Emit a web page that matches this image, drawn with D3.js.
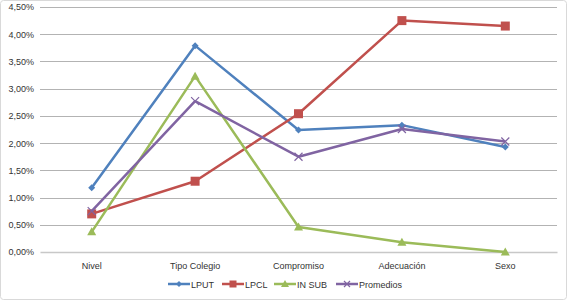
<!DOCTYPE html>
<html>
<head>
<meta charset="utf-8">
<script src="https://cdn.jsdelivr.net/npm/d3@7"></script>
<style>
  body { margin: 0; background: #fff; }
  svg { font-family: "Liberation Sans", Arial, sans-serif; }
</style>
</head>
<body>
<div id="chart"></div>
<script>
// data (percent)
var categories = ["Nivel", "Tipo Colegio", "Compromiso", "Adecuación", "Sexo"];
var seriesNames = ["LPUT", "LPCL", "IN SUB", "Promedios"];
var lput = [1.18, 3.79, 2.24, 2.33, 1.93];
var lpcl = [0.70, 1.30, 2.54, 4.25, 4.15];
var inSub = [0.37, 3.23, 0.46, 0.18, 0.00];
var promedios = [0.75, 2.77, 1.75, 2.26, 2.03];
var yTicks = [0, 0.5, 1, 1.5, 2, 2.5, 3, 3.5, 4, 4.5];

var colors = ["#4F81BD", "#C0504D", "#9BBB59", "#8064A2"];
var symbols = ["diamond", "square", "triangle", "x"];
var values = [lput, lpcl, inSub, promedios];

var W = 567, H = 300;
var margin = {top: 7, right: 10, bottom: 48, left: 40},
    width = W - margin.left - margin.right,
    height = H - margin.top - margin.bottom;

var root = d3.select("#chart").append("svg")
    .attr("width", W).attr("height", H);

// outer frame
root.append("rect")
    .attr("x", 0.5).attr("y", 0.5)
    .attr("width", W - 1).attr("height", H - 1)
    .attr("rx", 3)
    .attr("fill", "#fff").attr("stroke", "#d9d9d9");

var svg = root.append("g")
    .attr("transform", "translate(" + margin.left + "," + margin.top + ")");

var x = d3.scaleBand().domain(categories).range([0, width]);
var y = d3.scaleLinear().domain([0, 4.5]).range([height, 0]);

// gridlines
svg.selectAll(".grid")
    .data(yTicks.slice(1))
    .enter().append("line")
    .attr("x1", 0).attr("x2", width)
    .attr("y1", d => Math.round(y(d)) + 0.5).attr("y2", d => Math.round(y(d)) + 0.5)
    .attr("stroke", "#b3b3b3").attr("stroke-width", 1);

// Y axis
var yAxis = svg.append("g")
    .call(d3.axisLeft(y).tickValues(yTicks).tickSize(0).tickPadding(6)
        .tickFormat(d => d.toFixed(2).replace(".", ",") + "%"));
yAxis.select(".domain").remove();
yAxis.selectAll("text").attr("fill", "#333").style("font-size", "9px");

// X axis
var xAxis = svg.append("g")
    .attr("transform", "translate(0," + height + ")")
    .call(d3.axisBottom(x).tickSize(0).tickPadding(11));
xAxis.select(".domain").attr("stroke", "#c8c8c8").attr("stroke-width", 1.5);
xAxis.selectAll("text").attr("fill", "#333").style("font-size", "9px");

var line = d3.line()
    .x((d, i) => x(categories[i]) + x.bandwidth() / 2)
    .y(d => y(d));

function marker(g, type, color, s) {
    if (type === "diamond") {
        g.append("path").attr("d", "M0,-" + s + "L" + s + ",0L0," + s + "L-" + s + ",0Z").attr("fill", color);
    } else if (type === "square") {
        g.append("rect").attr("x", -s).attr("y", -s).attr("width", 2 * s).attr("height", 2 * s).attr("fill", color);
    } else if (type === "triangle") {
        g.append("path").attr("d", "M0,-" + (s + 1) + "L" + (s + 1) + "," + s + "L-" + (s + 1) + "," + s + "Z").attr("fill", color);
    } else {
        g.append("path").attr("d", "M-" + s + ",-" + s + "L" + s + "," + s + "M" + s + ",-" + s + "L-" + s + "," + s)
            .attr("stroke", color).attr("stroke-width", 1.2).attr("fill", "none");
    }
}

var sizes = [3.5, 4.5, 3.5, 4];

values.forEach(function (vals, k) {
    svg.append("path")
        .datum(vals)
        .attr("fill", "none")
        .attr("stroke", colors[k])
        .attr("stroke-width", 2.5)
        .attr("stroke-linejoin", "round")
        .attr("d", line);
    vals.forEach(function (v, i) {
        var g = svg.append("g")
            .attr("transform", "translate(" + (x(categories[i]) + x.bandwidth() / 2) + "," + y(v) + ")");
        marker(g, symbols[k], colors[k], sizes[k]);
    });
});

// legend
var legendX = [168, 222, 274, 336];
var legend = root.append("g").attr("transform", "translate(0,284)");
seriesNames.forEach(function (name, k) {
    var g = legend.append("g").attr("transform", "translate(" + legendX[k] + ",0)");
    g.append("line").attr("x1", 0).attr("x2", 22).attr("y1", 0).attr("y2", 0)
        .attr("stroke", colors[k]).attr("stroke-width", 2.5);
    var m = g.append("g").attr("transform", "translate(11,0)");
    marker(m, symbols[k], colors[k], symbols[k] === "square" ? 3.5 : 3);
    g.append("text").attr("x", 23).attr("y", 3.5)
        .attr("fill", "#333").style("font-size", "9px").text(name);
});
</script>
</body>
</html>
